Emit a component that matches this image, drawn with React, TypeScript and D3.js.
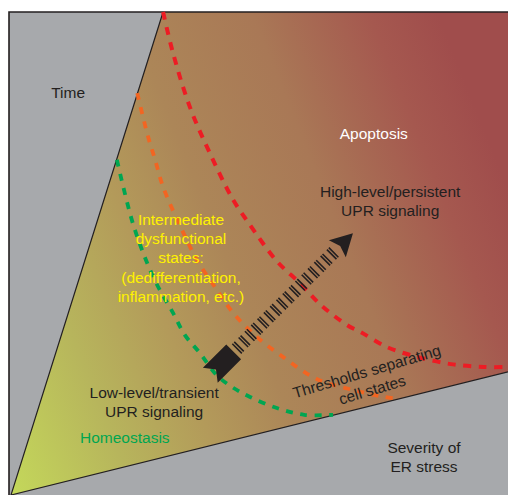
import React from 'react';
import * as d3 from 'd3';

const WIDTH = 508;
const HEIGHT = 495;

type Pt = [number, number];

// axes: severity of ER stress (x, 0-100) and time (y, 0-100)
const wedge: Pt[] = [[0, 0], [30.6, 100], [100, 100], [100, 25.5]];

// thresholds separating cell states
const greenThreshold: Pt[] = [
  [21.3, 69.4], [22.9, 62.5], [24.5, 56.3], [26.6, 50.1], [29.2, 43.9],
  [32.6, 37.7], [35.0, 33.1], [38.0, 29.4], [41.4, 24.8], [44.7, 22.2],
  [48.1, 20.3], [53.5, 18.0], [59.0, 16.6], [64.8, 16.6],
];
const orangeThreshold: Pt[] = [
  [25.4, 83.2], [27.6, 74.1], [29.0, 69.4], [30.6, 63.8], [34.4, 54.9],
  [37.4, 48.7], [41.0, 43.1], [44.7, 37.7], [49.5, 32.7], [54.7, 28.6],
  [59.6, 25.1], [63.0, 23.4], [69.0, 21.7], [75.1, 20.3], [77.9, 19.9],
];
const redThreshold: Pt[] = [
  [30.6, 100], [32.6, 91.5], [36.0, 80.3], [40.0, 70.8], [44.7, 61.1],
  [47.7, 56.5], [53.5, 48.4], [58.1, 43.9], [62.4, 39.3], [67.6, 35.2],
  [70.4, 33.7], [75.7, 30.6], [81.7, 28.6], [88.5, 27.1], [95.2, 26.5],
  [100, 26.5],
];

const arrowFrom: Pt = [40.1, 24.8];
const arrowTo: Pt = [68.8, 54.2];

const labels = [
  { lines: ['Time'], at: [11.5, 82.2] as Pt, color: '#231f20' },
  { lines: ['Apoptosis'], at: [73.0, 73.7] as Pt, color: '#ffffff' },
  { lines: ['High-level/persistent', 'UPR signaling'], at: [76.3, 61.7] as Pt, color: '#231f20' },
  {
    lines: ['Intermediate', 'dysfunctional', 'states:', '(dedifferentiation,', 'inflammation, etc.)'],
    at: [34.2, 55.9] as Pt,
    color: '#fff200',
  },
  { lines: ['Low-level/transient', 'UPR signaling'], at: [28.8, 20.1] as Pt, color: '#231f20' },
  { lines: ['Homeostasis'], at: [22.9, 10.8] as Pt, color: '#00a651' },
  { lines: ['Severity of', 'ER stress'], at: [83.1, 8.7] as Pt, color: '#231f20' },
];
const thresholdLabel = ['Thresholds separating', 'cell states'];
const thresholdLabelAt: Pt = [71.6, 25.5];

const FONT = 'Liberation Sans, Arial, Helvetica, sans-serif';

const App = () => {
  const x = d3.scaleLinear().domain([0, 100]).range([11, 508]);
  const y = d3.scaleLinear().domain([0, 100]).range([495, 12]);

  const line = d3
    .line<Pt>()
    .x((d) => x(d[0]))
    .y((d) => y(d[1]))
    .curve(d3.curveCatmullRom.alpha(0.5));
  const poly = d3
    .line<Pt>()
    .x((d) => x(d[0]))
    .y((d) => y(d[1]));

  // arrow geometry in pixel space
  const bx = x(arrowFrom[0]);
  const by = y(arrowFrom[1]);
  const tx = x(arrowTo[0]);
  const ty = y(arrowTo[1]);
  const len = Math.hypot(tx - bx, ty - by);
  const ux = (tx - bx) / len;
  const uy = (ty - by) / len;
  const nx = -uy;
  const ny = ux;
  const at = (s: number, w: number) => `${bx + ux * s + nx * w},${by + uy * s + ny * w}`;

  const tailLen = 33;
  const tailHalf = 10.5;
  const headLen = 22;
  const headHalf = 12;
  const tail = [at(0, -tailHalf), at(tailLen, -tailHalf), at(tailLen, tailHalf), at(0, tailHalf), at(8, 0)].join(' ');
  const head = [at(len, 0), at(len - headLen, headHalf), at(len - headLen + 4, 0), at(len - headLen, -headHalf)].join(' ');
  const stripeStart = tailLen + 4;
  const stripeEnd = len - headLen - 1;

  return (
    <svg
      width={WIDTH}
      height={HEIGHT}
      style={{ position: 'absolute', left: 0, top: 0, background: '#fff' }}
      fontFamily={FONT}
      fontSize={15.5}
    >
      <defs>
        <linearGradient id="stress" gradientUnits="userSpaceOnUse" x1={11} y1={495} x2={545} y2={281}>
          <stop offset="0" stopColor="#c4d85a" />
          <stop offset="0.2" stopColor="#b7b55c" />
          <stop offset="0.36" stopColor="#b39a5a" />
          <stop offset="0.5" stopColor="#ac8658" />
          <stop offset="0.7" stopColor="#a97856" />
          <stop offset="0.89" stopColor="#a5584f" />
          <stop offset="1" stopColor="#a04d4c" />
        </linearGradient>
      </defs>

      <rect x={9} y={12} width={WIDTH - 9} height={HEIGHT - 12} fill="#a7a9ac" />
      <path d={poly(wedge) + 'Z'} fill="url(#stress)" />
      <path d={poly([wedge[1], wedge[0], wedge[3]]) || ''} fill="none" stroke="#231f20" strokeWidth={1.2} />
      <path d={`M9,${HEIGHT}V12H${WIDTH}`} fill="none" stroke="#231f20" strokeWidth={1.6} />

      <path d={line(greenThreshold) || ''} fill="none" stroke="#00a651" strokeWidth={3.8} strokeDasharray="7,7.5" />
      <path d={line(orangeThreshold) || ''} fill="none" stroke="#f26522" strokeWidth={3.8} strokeDasharray="7,7.5" />
      <path d={line(redThreshold) || ''} fill="none" stroke="#ed1c24" strokeWidth={4} strokeDasharray="8,7.5" />

      <line
        x1={bx + ux * stripeStart}
        y1={by + uy * stripeStart}
        x2={bx + ux * stripeEnd}
        y2={by + uy * stripeEnd}
        stroke="#231f20"
        strokeWidth={13.5}
        strokeDasharray="1.6,1.1,1.6,4.6"
      />
      <polygon points={tail} fill="#231f20" />
      <polygon points={head} fill="#231f20" />

      {labels.map((l, i) => (
        <text key={i} x={x(l.at[0])} y={y(l.at[1])} fill={l.color} textAnchor="middle">
          {l.lines.map((t, j) => (
            <tspan key={j} x={x(l.at[0])} dy={j === 0 ? 0 : 19.2}>
              {t}
            </tspan>
          ))}
        </text>
      ))}
      <g transform={`translate(${x(thresholdLabelAt[0])},${y(thresholdLabelAt[1])}) rotate(-16.5)`}>
        <text fill="#231f20" textAnchor="middle">
          {thresholdLabel.map((t, j) => (
            <tspan key={j} x={0} y={5 + j * 19}>
              {t}
            </tspan>
          ))}
        </text>
      </g>
    </svg>
  );
};

export default App;
